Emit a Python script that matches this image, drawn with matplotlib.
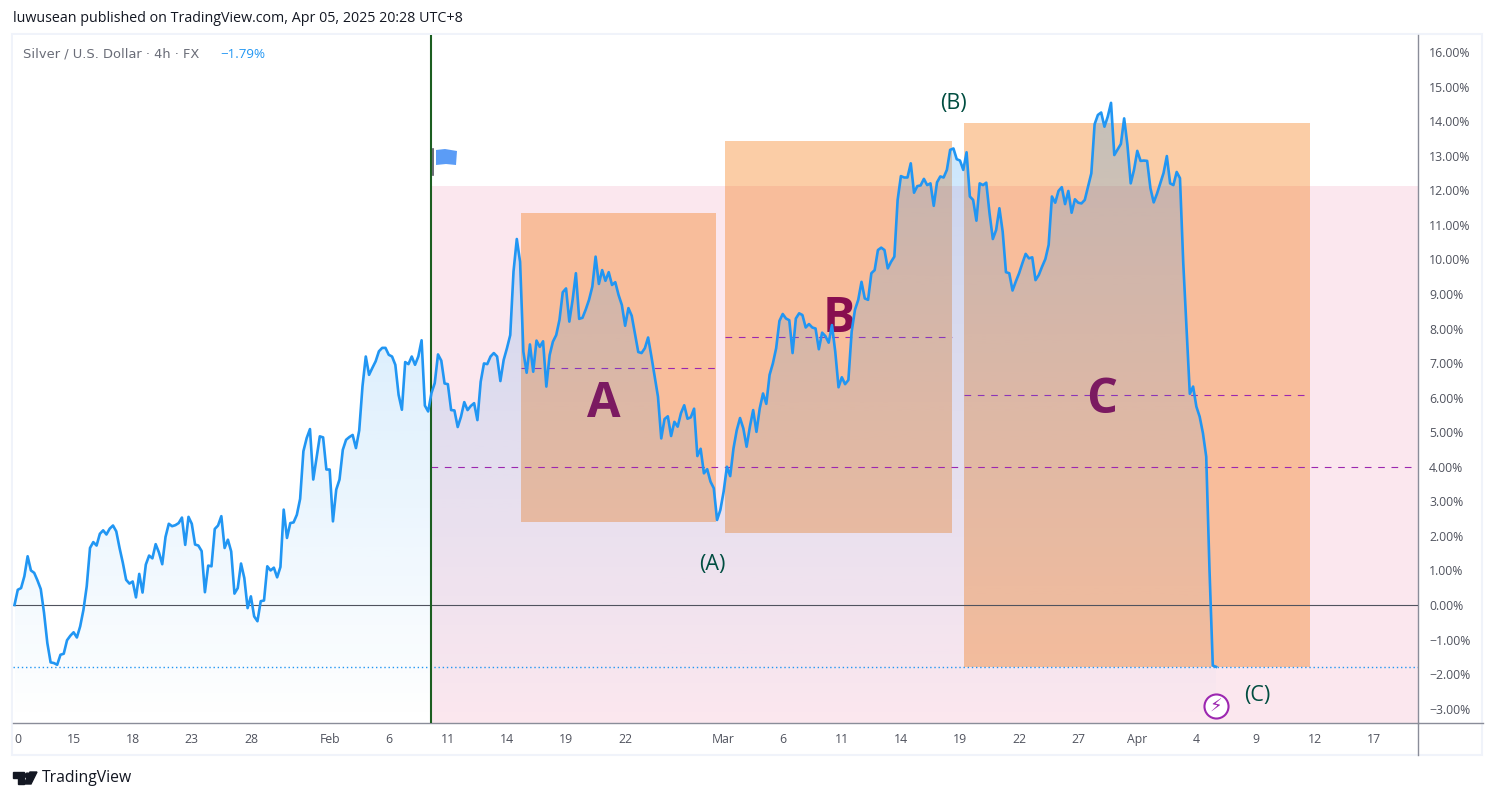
import numpy as np
import matplotlib
matplotlib.use("Agg")
import matplotlib.pyplot as plt
from matplotlib.patches import Rectangle, Polygon, PathPatch
from matplotlib.path import Path

plt.rcParams['font.family'] = ['Open Sans', 'DejaVu Sans']

# percent change per 4h bar
jan_pct = [0, .44, .49, .83, 1.41, 1.0, .93, .71, .46, -.23, -1.10, -1.66, -1.68, -1.73, -1.44, -1.41,
           -1.02, -.89, -.79, -.94, -.62, -.14, .54, 1.65, 1.82, 1.72, 2.06, 2.16, 2.04, 2.21, 2.30, 2.13,
           1.65, 1.22, .73, .62, .68, .22, .90, .36, 1.17, 1.43, 1.35, 1.76, 1.52, 1.18, 1.97, 2.35,
           2.28, 2.31, 2.37, 2.53, 1.74, 2.55, 2.35, 1.75, 1.72, 1.56, .37, 1.14, 1.12, 2.20, 2.30, 2.57,
           1.65, 1.89, 1.55, .33, .49, 1.20, .78, -.09, .25, -.33, -.47, .11, .13, 1.12, 1.0, 1.08,
           .80, 1.10, 2.76, 1.94, 2.37, 2.39, 2.61, 3.07, 4.45, 4.83, 5.09, 3.63, 4.25, 4.88, 4.85, 3.92]
feb_pct = [3.92, 2.42, 3.34, 3.63, 4.49, 4.78, 4.86, 4.92, 4.54, 5.05, 6.33, 7.19, 6.66, 6.86, 7.05, 7.34,
           7.44, 7.44, 7.24, 7.19, 6.95, 6.08, 5.65, 7.03, 6.97, 7.19, 6.95, 7.19, 7.66, 5.77, 5.60, 6.13,
           6.42, 7.25, 7.07, 6.41, 6.39, 5.64, 5.63, 5.15, 5.45, 5.87, 5.64, 5.76, 5.84, 5.35, 6.46, 6.99,
           6.97, 7.19, 7.29, 7.19, 6.48, 7.09, 7.43, 7.81, 9.65, 10.59, 9.93, 7.33, 6.72, 7.54, 6.75, 7.65,
           7.47, 7.63, 6.32, 7.23, 7.62, 7.81, 8.25, 9.05, 9.16, 8.20, 8.83, 9.60, 8.28, 8.31, 8.55, 8.83,
           9.21, 10.08, 9.29, 9.69, 9.38, 9.63, 9.26, 9.34, 8.97, 8.68, 8.08, 8.59, 8.37, 7.84, 7.32, 7.29,
           7.43, 7.74, 7.19, 6.61, 6.03, 4.82, 5.38, 5.46, 4.89, 5.30, 5.16, 5.55, 5.78, 5.39, 5.43, 5.68,
           4.31, 4.52, 3.81, 3.93, 3.57, 3.38, 2.46, 2.75, 3.28, 4.00]
mar_pct = [3.73, 4.53, 5.06, 5.41, 5.11, 4.58, 5.16, 5.64, 5.01, 5.69, 6.12, 5.82, 6.66, 6.99, 7.43, 8.22,
           8.42, 8.29, 8.24, 7.29, 8.29, 8.44, 8.39, 8.03, 8.13, 8.03, 8.00, 7.40, 7.88, 7.78, 7.59, 8.10,
           7.33, 6.30, 6.59, 6.39, 6.51, 7.91, 8.54, 8.83, 9.35, 8.87, 8.83, 9.60, 9.69, 10.27, 10.34, 10.27,
           9.74, 9.93, 10.08, 11.72, 12.41, 12.37, 12.37, 12.78, 11.93, 12.12, 12.14, 12.33, 12.15, 12.20,
           11.55, 12.23, 12.40, 12.37, 12.59, 13.17, 13.21, 12.90, 12.86, 12.59, 13.10, 11.82, 11.72, 11.12,
           12.20, 12.15, 12.22, 11.33, 10.59, 10.85, 11.48, 10.80, 9.63, 9.60, 9.10, 9.36, 9.60, 9.89, 10.16,
           10.03, 10.06, 9.40, 9.55, 9.79, 10.01, 10.42, 11.82, 11.64, 11.98, 12.09, 11.60, 11.98, 11.35,
           11.74, 11.64, 11.62, 11.72, 12.10, 12.49, 13.91, 14.18, 14.25, 13.84, 14.13, 14.53, 13.02, 13.18,
           13.34, 14.08, 13.31, 12.20, 12.59, 13.14, 12.85, 12.86, 12.85, 12.06, 11.65, 11.9, 12.2, 12.5, 12.99,
           12.20, 12.15, 12.53, 12.35]
apr_pct = [9.9, 8.0, 6.11, 6.32, 5.74, 5.45, 4.97, 4.29, 1.0, -1.75, -1.79]
series_pct = jan_pct + feb_pct + mar_pct + apr_pct
bars = np.arange(len(series_pct))

tick_bars = [1, 18, 36, 54, 72, 96, 114, 132, 150, 168, 186, 216, 234, 252, 270, 288, 306, 324, 342, 360, 378, 396, 414]
tick_labels = ['0', '15', '18', '23', '28', 'Feb', '6', '11', '14', '19', '22', 'Mar', '6', '11', '14', '19', '22',
               '27', 'Apr', '4', '9', '12', '17']
pct_ticks = list(range(-3, 17))

# wave boxes: first bar, last bar, top, bottom, middle
box_a = [154.3, 213.7, 11.34, 2.40, 6.85]
box_b = [216.4, 285.6, 13.43, 2.08, 7.75]
box_c = [289.2, 394.6, 13.95, -1.79, 6.07]
event_bar = 127
zone_top = 12.12
zone_mid = 3.98
last_pct = -1.79

W, H = 1496, 800
LEFT, RIGHT, TOP, BOTTOM = 13, 1418, 35, 723
PX_PER_BAR = 3.283
PX_PER_PCT = 34.56
ZERO_Y = 605

fig = plt.figure(figsize=(W / 100, H / 100), dpi=100, facecolor='white')
ax = fig.add_axes([LEFT / W, 1 - BOTTOM / H, (RIGHT - LEFT) / W, (BOTTOM - TOP) / H])
xlim = ((LEFT - 14.5) / PX_PER_BAR, (RIGHT - 14.5) / PX_PER_BAR)
ylim = ((ZERO_Y - BOTTOM) / PX_PER_PCT, (ZERO_Y - TOP) / PX_PER_PCT)

# pink zone and the orange boxes
ax.add_patch(Rectangle((event_bar, ylim[0]), xlim[1] - event_bar, zone_top - ylim[0], color='#fbe7ee', lw=0, zorder=1))
for box in [box_a, box_b, box_c]:
    ax.add_patch(Rectangle((box[0], box[3]), box[1] - box[0], box[2] - box[3], facecolor='#f57000', alpha=0.35,
                           lw=0, zorder=2))
    ax.plot([box[0], box[1]], [box[4], box[4]], color='#9c27b0', lw=0.8, dashes=(6, 6), zorder=3)

# area under the line, fades out to the bottom of the pane
grad = np.zeros((256, 1, 4))
grad[:, 0, 0] = 33 / 255
grad[:, 0, 1] = 150 / 255
grad[:, 0, 2] = 243 / 255
grad[:, 0, 3] = np.linspace(0.25, 0, 256)
img = ax.imshow(grad, extent=(bars[0], bars[-1], ylim[0], max(series_pct)), aspect='auto', zorder=4, origin='upper')
verts = list(zip(bars, series_pct)) + [(bars[-1], ylim[0]), (bars[0], ylim[0]), (bars[0], series_pct[0])]
clip = PathPatch(Path(verts), transform=ax.transData, fc='none', ec='none')
ax.add_patch(clip)
img.set_clip_path(clip)

ax.axhline(0, color='#50535e', lw=0.8, zorder=5)
ax.plot([event_bar, xlim[1]], [zone_mid, zone_mid], color='#9c27b0', lw=0.8, dashes=(6, 6), zorder=5)
ax.axhline(last_pct, color='#2196f3', lw=1, ls=(0, (1, 2)), zorder=5)
ax.axvline(event_bar - 0.2, color='#1b5e20', lw=1.5, zorder=6)
ax.plot(bars, series_pct, color='#2196f3', lw=1.9, solid_joinstyle='round', zorder=7)

ax.text(179.5, 5.8, 'A', color='#7b1a61', fontsize=35, fontweight='bold', ha='center', va='center', zorder=8)
ax.text(251, 8.27, 'B', color='#880e4f', fontsize=35, fontweight='bold', ha='center', va='center', zorder=6)
ax.text(331, 5.92, 'C', color='#7b1a61', fontsize=35, fontweight='bold', ha='center', va='center', zorder=6)
ax.text(212.5, 1.17, '(A)', color='#004d40', fontsize=15.5, ha='center', va='center', zorder=8)
ax.text(286, 14.5, '(B)', color='#004d40', fontsize=15.5, ha='center', va='center', zorder=8)
ax.text(378.5, -2.63, '(C)', color='#004d40', fontsize=15.5, ha='center', va='center', zorder=8)

# news marker
ax.scatter([366], [-2.92], s=300, facecolor='white', edgecolor='#9c27b0', lw=1.5, zorder=8)
ax.text(366, -2.93, '\u26a1', color='#9c27b0', fontsize=13, family=['DejaVu Sans'], ha='center', va='center', zorder=9)

ax.set_xlim(xlim)
ax.set_ylim(ylim)
ax.set_xticks(tick_bars)
ax.set_xticklabels(tick_labels)
ax.yaxis.tick_right()
ax.set_yticks(pct_ticks)
ax.set_yticklabels([f'{v:.2f}%'.replace('-', '\u2212') for v in pct_ticks])
ax.tick_params(axis='x', length=0, pad=7.5, labelsize=8.8, labelcolor='#50535e')
ax.tick_params(axis='y', length=0, pad=8, labelsize=8.8, labelcolor='#50535e')
for side in ['top', 'left']:
    ax.spines[side].set_visible(False)
for side in ['right', 'bottom']:
    ax.spines[side].set_color('#8a8d99')
    ax.spines[side].set_linewidth(1)

# page furniture, drawn in pixel coordinates
page = fig.add_axes([0, 0, 1, 1], zorder=-1)
page.set_xlim(0, W)
page.set_ylim(H, 0)
page.axis('off')
page.add_patch(Rectangle((12.5, 34), 1470, 721, fc='white', ec='#f0f3fa', lw=1.5))
page.plot([RIGHT, RIGHT], [BOTTOM, 755], color='#8a8d99', lw=1)
page.plot([RIGHT, 1483], [BOTTOM, BOTTOM], color='#8a8d99', lw=1)
page.text(13, 19, 'luwusean published on TradingView.com, Apr 05, 2025 20:28 UTC+8', color='#131722', fontsize=10.3,
          va='center')
page.text(42, 778.5, 'TradingView', color='#131722', fontsize=11.3, va='center')
page.add_patch(Polygon([(13, 772), (24, 772), (24, 784), (18, 784), (18, 778), (13, 778)], color='#131722'))
page.add_patch(Polygon([(30, 772), (37, 772), (31, 784), (24, 784)], color='#131722'))
page.scatter([27], [775], s=12, color='#131722')

# legend and flag on top of the chart
over = fig.add_axes([0, 0, 1, 1], zorder=5)
over.set_xlim(0, W)
over.set_ylim(H, 0)
over.axis('off')
over.text(23, 54, 'Silver / U.S. Dollar \u00b7 4h \u00b7 FX', color='#6a6d78', fontsize=9.4, family=['DejaVu Sans'],
          va='center')
over.text(220, 54, '\u22121.79%', color='#2196f3', fontsize=9.6, va='center')
over.plot([433, 433], [149, 175], color='#50535e', lw=1.2)
over.add_patch(Polygon([(436, 150), (445, 149), (457, 151), (456, 165), (446, 164), (436, 165)], color='#5b9cf6', lw=0))

fig.savefig('out.png', dpi=100)
